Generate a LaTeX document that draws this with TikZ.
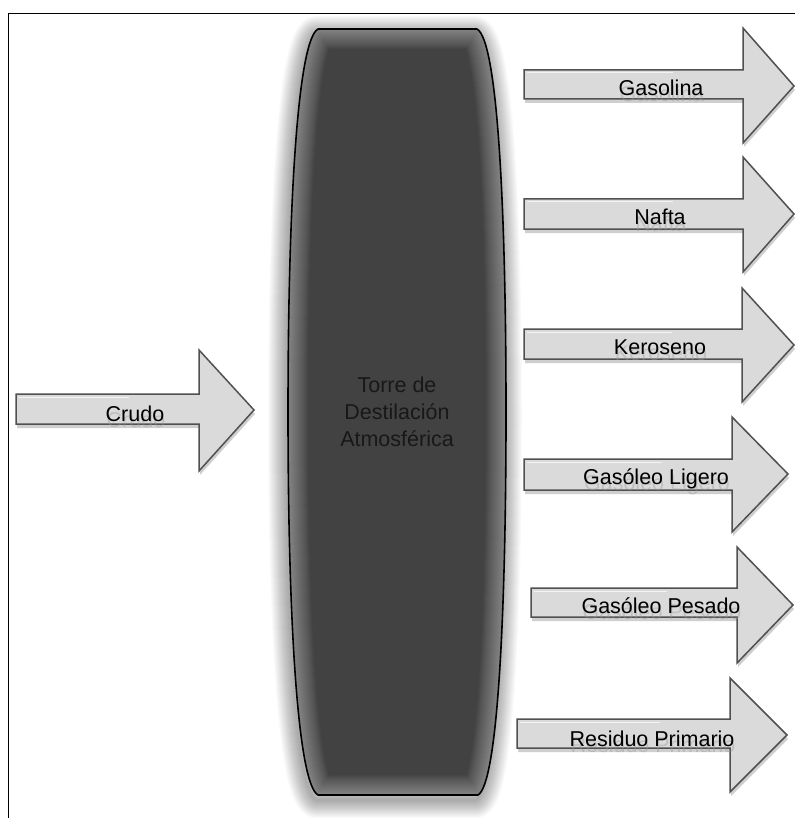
\documentclass[tikz,border=0pt]{standalone}
\usepackage{fontspec}
\setmainfont{Liberation Sans}
\definecolor{towerfill}{HTML}{424242}
\definecolor{towertext}{HTML}{181818}
\definecolor{arrowfill}{HTML}{DADADA}
\definecolor{arrowline}{HTML}{505050}
\definecolor{arrowshade}{HTML}{C4C4C4}

% outline of the distillation tower (barrel shape)
\def\towerpath{(318,29) -- (477,29)
  .. controls (497,40) and (506,200) .. (506,412)
  .. controls (506,624) and (497,784) .. (478,795)
  -- (318,795)
  .. controls (298,784) and (288,624) .. (288,412)
  .. controls (288,200) and (298,40) .. (318,29) -- cycle}

% block arrow: left x, shaft top, shaft bottom, head base x, head top, head bottom, tip x, tip y
\newcommand\flowarrow[8]{%
  \fill[arrowshadow,shift={(1,4)}] (#1,#2) -- (#4,#2) -- (#4,#5) -- (#7,#8) -- (#4,#6) -- (#4,#3) -- (#1,#3) -- cycle;
  \filldraw[arrowbody] (#1,#2) -- (#4,#2) -- (#4,#5) -- (#7,#8) -- (#4,#6) -- (#4,#3) -- (#1,#3) -- cycle;
  \draw[arrowgloss] (#1+3,#2+3) -- (#4-70,#2+3);
}
% arrow caption with its faint ghost underneath: name, x, baseline y, text
\newcommand\flowlabel[4]{%
  \node[labelghost] at (#2+1,#3+6) {#4};
  \node[flowtext] (#1) at (#2,#3) {#4};
}

\begin{document}
\begin{tikzpicture}[x=1pt,y=-1pt,
  frame/.style={line width=1.6pt,black},
  arrowshadow/.style={fill=arrowshade,opacity=0.8},
  arrowbody/.style={fill=arrowfill,draw=arrowline,line width=1.5pt,line join=miter},
  arrowgloss/.style={white,line width=1pt,opacity=0.7},
  flowtext/.style={anchor=base,inner sep=0pt,text=black,font=\fontsize{21.5}{26}\selectfont},
  labelghost/.style={anchor=base,inner sep=0pt,text=black!40,opacity=0.4,font=\fontsize{21.5}{26}\selectfont},
  towerlabel/.style={align=center,inner sep=0pt,text=towertext,font=\fontsize{21.5}{27}\selectfont},
]
\useasboundingbox (0,0) rectangle (795,818);
\fill[white] (0,0) rectangle (795,818);

% frame lines
\draw[frame] (8.5,818) -- (8.5,13.5) -- (795,13.5);

% soft shadow around the tower, strongest to the lower left
\begin{scope}[shift={(-2,5)}]
  \foreach \w in {2,4,...,36}
    \draw[black,opacity=0.018,line width=\w pt,line join=round] \towerpath;
\end{scope}

% tower body with lighter inner rim
\fill[towerfill] \towerpath;
\begin{scope}
  \clip \towerpath;
  \foreach \w in {2,4,...,40}
    \draw[white,opacity=0.022,line width=\w pt] \towerpath;
\end{scope}
\draw[black,line width=1.6pt,line join=round] \towerpath;
\node[towerlabel] (tower) at (397,412) {Torre de\\Destilación\\Atmosférica};

% feed arrow
\flowarrow{16}{394}{424}{199}{350}{471}{254}{410}
\flowlabel{crudo}{135}{421}{Crudo}

% product arrows
\flowarrow{524}{70}{99}{743}{28}{143}{794}{86}
\flowlabel{gasolina}{661}{96}{Gasolina}

\flowarrow{524}{199}{229}{743}{157}{272}{794}{214}
\flowlabel{nafta}{660}{225}{Nafta}

\flowarrow{524}{329}{359}{742}{288}{402}{794}{345}
\flowlabel{keroseno}{660}{354}{Keroseno}

\flowarrow{524}{459}{490}{732}{417}{532}{788}{474}
\flowlabel{ligero}{656}{484}{Gasóleo Ligero}

\flowarrow{531}{588}{617}{737}{547}{663}{793}{605}
\flowlabel{pesado}{661}{613}{Gasóleo Pesado}

\flowarrow{517}{719}{748}{730}{678}{792}{787}{735}
\flowlabel{residuo}{652}{746}{Residuo Primario}
\end{tikzpicture}
\end{document}
